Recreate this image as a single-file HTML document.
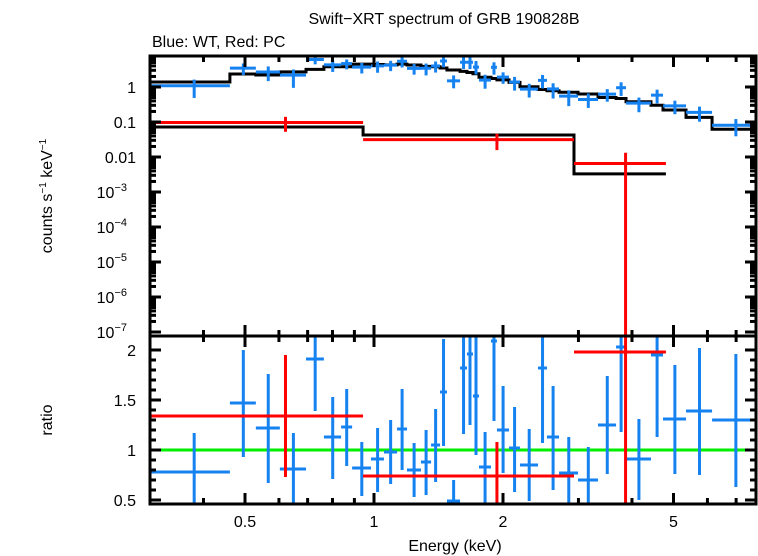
<!DOCTYPE html>
<html><head><meta charset="utf-8"><style>
body{margin:0;background:#fff;}
svg{display:block;font-family:"Liberation Sans",sans-serif;}
</style></head><body>
<svg id="chart" width="758" height="556" viewBox="0 0 758 556" xmlns="http://www.w3.org/2000/svg">
<text x="444" y="24" font-size="16" text-anchor="middle">Swift−XRT spectrum of GRB 190828B</text>
<text x="152" y="47" font-size="16">Blue: WT, Red: PC</text>
<text transform="translate(52,196) rotate(-90)" font-size="16" text-anchor="middle">counts s<tspan font-size="10" dy="-6">−1</tspan><tspan dy="6"> keV</tspan><tspan font-size="10" dy="-6">−1</tspan></text>
<text transform="translate(52,420) rotate(-90)" font-size="16" text-anchor="middle">ratio</text>
<text x="455" y="551" font-size="16" text-anchor="middle">Energy (keV)</text>
<g id="marks"></g>
<g id="axes"></g>
</svg>
<script>
// Blue (WT) bin edges in keV
const blueEdges=[0.3,0.461,0.530,0.603,0.694,0.764,0.838,0.889,0.984,1.055,1.132,1.194,1.287,1.359,1.426,1.480,1.588,1.648,1.702,1.758,1.875,1.936,2.066,2.191,2.414,2.533,2.703,2.993,3.333,3.672,3.874,4.430,4.726,5.348,6.151,7.83];
const blueModel=[1.39,2.35,2.2,2.7,3.2,3.8,3.8,4.5,4.4,4.3,4.5,4.25,3.9,3.8,3.5,3.06,2.8,2.6,2.4,1.9,1.75,1.6,1.36,1.02,0.85,0.78,0.71,0.63,0.5,0.47,0.38,0.30,0.22,0.136,0.062];
const blueRatio=[0.78,1.47,1.22,0.81,1.91,1.13,1.23,0.82,0.91,0.98,1.21,0.80,0.88,1.05,1.58,0.49,1.82,1.96,1.54,0.83,2.09,1.20,1.02,0.85,1.82,1.13,0.77,0.70,1.25,2.03,0.91,1.95,1.31,1.39,1.30];
const blueRatioHi=[1.17,2.0,1.76,1.17,2.6,1.53,1.61,1.08,1.22,1.30,1.61,1.07,1.20,1.41,2.11,0.70,2.6,2.7,2.3,1.18,2.9,1.64,1.43,1.21,2.6,1.64,1.13,1.03,1.74,2.9,1.31,2.8,1.85,2.02,1.96];
const blueRatioLo=[0.35,0.93,0.67,0.35,1.39,0.71,0.84,0.54,0.58,0.66,0.80,0.53,0.55,0.68,1.04,0.3,1.16,1.25,0.95,0.47,1.29,0.77,0.58,0.49,1.07,0.60,0.4,0.4,0.76,1.18,0.50,1.13,0.76,0.75,0.63];
// Red (PC)
const redEdges=[0.3,0.943,2.929,4.80];
const redModel=[0.072,0.0425,0.0033];
const redRatio=[1.34,0.74,1.98];
const redRatioHi=[1.95,1.08,4.0];
const redRatioLo=[0.73,0.37,0.00001];
// axis ticks
const xTickLabels=[0.5,1,2,5];
const ratioTickLabels=[0.5,1,1.5,2];
const countExp=[0,-1,-2,-3,-4,-5,-6,-7];

const L=150,R=756,T=56,M=336,B=504;
const xPerDec=428.5;
function xs(e){return 374+Math.log10(e)*xPerDec;}
function yc(v){return 87-35*Math.log10(v);}
function yr(v){return 450-100*(v-1);}
const NS="http://www.w3.org/2000/svg";
const marks=document.getElementById('marks'), axes=document.getElementById('axes');
function mk(tag,attrs,parent){const e=document.createElementNS(NS,tag);for(const k in attrs)e.setAttribute(k,attrs[k]);parent.appendChild(e);return e;}

const defs=mk('defs',{},marks);
const c1=mk('clipPath',{id:'clipTop'},defs);mk('rect',{x:L,y:T,width:R-L,height:M-T},c1);
const c2=mk('clipPath',{id:'clipBot'},defs);mk('rect',{x:L,y:M,width:R-L,height:B-M},c2);
const gTop=mk('g',{'clip-path':'url(#clipTop)'},marks);
const gBot=mk('g',{'clip-path':'url(#clipBot)'},marks);

const unity=mk('line',{x1:L,x2:R,y1:yr(1),y2:yr(1),stroke:'#00ee00','stroke-width':3},gBot);



function drawModel(edges,model,name){
  let d='';
  for(let i=0;i<model.length;i++){
    const y=yc(model[i]);
    d+=(i===0?'M':'L')+xs(edges[i])+','+y+' L'+xs(edges[i+1])+','+y+' ';
  }
  const p=mk('path',{d:d,fill:'none',stroke:'#000','stroke-width':3},gTop);
  
  
}
function drawSeries(edges,model,ratio,hi,lo,color,prefix){
  for(let i=0;i<ratio.length;i++){
    const x0=xs(edges[i]),x1=xs(edges[i+1]),xc=xs((edges[i]+edges[i+1])/2);
    const g=mk('g',{stroke:color,'stroke-width':3},gTop);
    
    
    const v=model[i]*ratio[i];
    mk('line',{x1:x0,x2:x1,y1:yc(v),y2:yc(v)},g);
    mk('line',{x1:xc,x2:xc,y1:yc(model[i]*hi[i]),y2:yc(model[i]*lo[i])},g);
    const h=mk('g',{stroke:color,'stroke-width':3},gBot);
    
    
    mk('line',{x1:x0,x2:x1,y1:yr(ratio[i]),y2:yr(ratio[i])},h);
    mk('line',{x1:xc,x2:xc,y1:yr(hi[i]),y2:yr(Math.max(lo[i],0))},h);
  }
}
drawModel(blueEdges,blueModel,'wt-model-line');
drawModel(redEdges,redModel,'pc-model-line');
drawSeries(blueEdges,blueModel,blueRatio,blueRatioHi,blueRatioLo,'#1582f0','wt');
drawSeries(redEdges,redModel,redRatio,redRatioHi,redRatioLo,'#ff0000','pc');

for(const [y0,y1,n] of [[T,M,'top-panel-frame'],[M,B,'ratio-panel-frame']]){
  const r=mk('rect',{x:L,y:y0,width:R-L,height:y1-y0,fill:'none',stroke:'#000','stroke-width':3},axes);
  
  
}
function tick(x1,y1,x2,y2){mk('line',{x1:x1,y1:y1,x2:x2,y2:y2,stroke:'#000','stroke-width':3},axes);}
const minorE=[0.3,0.4,0.6,0.7,0.8,0.9,3,4,6,7];
for(const e of minorE){const x=xs(e);if(x<L||x>R)continue;
  for(const [a,b] of [[T,T+6],[M-6,M],[M,M+6],[B-6,B]])tick(x,a,x,b);}
for(const e of xTickLabels){const x=xs(e);
  for(const [a,b] of [[T,T+11],[M-11,M],[M,M+11],[B-11,B]])tick(x,a,x,b);
  const t=mk('text',{x:x,y:527,'font-size':16,'text-anchor':'middle'},axes);t.textContent=e;
  
  
}
for(const ex of countExp){
  const y=yc(Math.pow(10,ex));
  tick(L,y,L+11,y);tick(R-11,y,R,y);
  for(let k=2;k<=9;k++){const ym=yc(k*Math.pow(10,ex));if(ym>T&&ym<M){tick(L,ym,L+6,ym);tick(R-6,ym,R,ym);}}
  const t=mk('text',{x:136,y:y+6,'font-size':16,'text-anchor':'end'},axes);
  
  
  if(ex>=-2){t.textContent=String(Math.pow(10,ex).toFixed(-ex));}
  else{t.textContent='10';const s=document.createElementNS(NS,'tspan');s.setAttribute('font-size','11');s.setAttribute('dy','-7');s.textContent='−'+(-ex);t.appendChild(s);t.setAttribute('x',127);}
}
for(let v=0.5;v<=2.1;v+=0.1){const y=yr(v);const maj=Math.abs(v*2-Math.round(v*2))<1e-6;
  const len=maj?11:6;tick(L,y,L+len,y);tick(R-len,y,R,y);}
for(const v of ratioTickLabels){const t=mk('text',{x:136,y:yr(v)+6,'font-size':16,'text-anchor':'end'},axes);t.textContent=v;
  
  
}
</script>
</body></html>
